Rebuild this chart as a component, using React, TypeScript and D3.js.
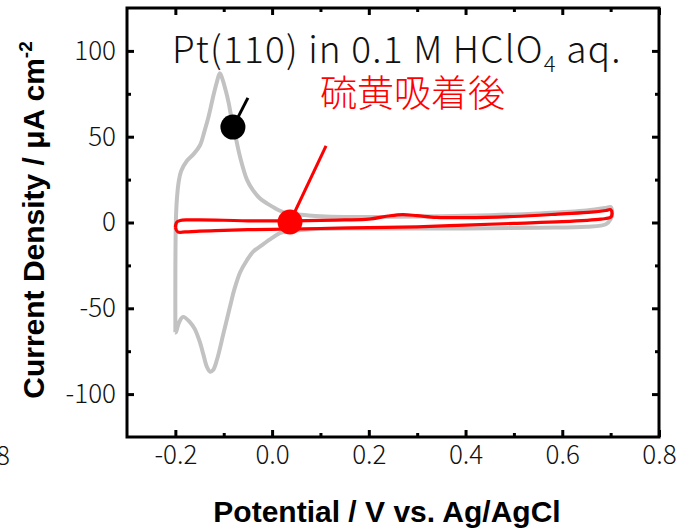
import React, { useEffect, useRef } from 'react';
import * as d3 from 'd3';

const W = 677;
const H = 529;

// axis ticks
const xTicks = [-0.2, 0.0, 0.2, 0.4, 0.6, 0.8];
const xTickLabels = ['-0.2', '0.0', '0.2', '0.4', '0.6', '0.8'];
const xMinorTicks = [-0.1, 0.1, 0.3, 0.5, 0.7];
const yTicks = [-100, -50, 0, 50, 100];
const yTickLabels = ['-100', '-50', '0', '50', '100'];
const yMinorTicks = [-75, -25, 25, 75];

// Pt(110) in 0.1 M HClO4 (before S adsorption), [V, µA cm-2]
const grayAnodic: [number, number][] = [
  [-0.2, -64], [-0.2, -30], [-0.199, 0], [-0.197, 13], [-0.193, 24], [-0.188, 30],
  [-0.176, 36], [-0.162, 40], [-0.149, 45], [-0.14, 53], [-0.131, 62], [-0.123, 72],
  [-0.115, 81], [-0.108, 87], [-0.102, 83], [-0.096, 77], [-0.09, 70], [-0.084, 61],
  [-0.077, 52], [-0.066, 38], [-0.052, 25], [-0.04, 19], [-0.025, 14], [-0.01, 11],
  [0.002, 9], [0.015, 7], [0.031, 5.5], [0.05, 4.8], [0.072, 4.2], [0.1, 3.6],
  [0.15, 3.2], [0.25, 3.3], [0.35, 3.6], [0.45, 4.2], [0.55, 5.3], [0.65, 7],
  [0.69, 8.5], [0.7, 9],
];
const grayCathodic: [number, number][] = [
  [0.703, 6], [0.7, 2], [0.69, -1], [0.65, -2.5], [0.55, -3], [0.4, -3.5], [0.25, -3.5],
  [0.15, -3.5], [0.08, -4], [0.04, -5], [0.017, -6], [0.0, -9], [-0.02, -13],
  [-0.039, -17], [-0.052, -22], [-0.066, -29], [-0.078, -39], [-0.087, -49],
  [-0.1, -64], [-0.114, -80], [-0.122, -86], [-0.128, -87], [-0.135, -84],
  [-0.142, -77], [-0.149, -70], [-0.16, -62], [-0.17, -58], [-0.184, -55],
  [-0.192, -58], [-0.199, -64], [-0.2, -64],
];

// after sulfur adsorption
const redAnodic: [number, number][] = [
  [-0.2, -3], [-0.199, -1], [-0.196, 0.5], [-0.19, 1.2], [-0.175, 1.5], [-0.15, 1.5],
  [-0.1, 1.3], [-0.05, 1], [0.0, 1], [0.04, 1], [0.1, 1.2], [0.15, 1.5], [0.2, 2],
  [0.24, 3.8], [0.27, 4.6], [0.3, 4], [0.34, 3], [0.4, 2.8], [0.5, 3.5], [0.6, 5],
  [0.66, 6], [0.69, 7], [0.7, 7.5],
];
const redCathodic: [number, number][] = [
  [0.703, 5], [0.7, 3], [0.68, 2], [0.6, 0.5], [0.5, -0.5], [0.4, -1.5], [0.3, -2.5],
  [0.2, -3], [0.1, -3.5], [0.04, -3.8], [-0.05, -4.2], [-0.1, -4.6], [-0.15, -5],
  [-0.18, -5.5], [-0.195, -5.5], [-0.2, -3],
];

// markers: [point V, point j, pointer-end V, pointer-end j]
const blackMarker = [-0.081, 55.6, -0.05, 72.6];
const redMarker = [0.037, 0.3, 0.1115, 44.6];

const titleMain = 'Pt(110) in 0.1 M HClO';
const titleSub = '4';
const titleEnd = ' aq.';
const redLabel = '硫黄吸着後';
const xLabel = 'Potential / V vs. Ag/AgCl';
const yLabelMain = 'Current Density / μA cm';
const yLabelSup = '-2';

export default function App() {
  const ref = useRef<SVGSVGElement>(null);
  useEffect(() => {
    const svg = d3.select(ref.current);
    svg.selectAll('*').remove();
    const L = 127, R = 659, T = 8, B = 437;
    const x = d3.scaleLinear().domain([-0.3, 0.8]).range([L, R]);
    const y = d3.scaleLinear().domain([-125, 125]).range([B, T]);
    const line = d3
      .line<[number, number]>()
      .x((d) => x(d[0]))
      .y((d) => y(d[1]))
      .curve(d3.curveCatmullRom.alpha(0.5));

    const tickFont = "'Noto Sans CJK JP', 'Noto Sans', sans-serif";
    const boldFont = "'Liberation Sans', Arial, sans-serif";

    svg.append('rect').attr('width', W).attr('height', H).attr('fill', '#fff');

    svg
      .append('path')
      .datum([...grayAnodic, ...grayCathodic])
      .attr('d', line)
      .attr('fill', 'none')
      .attr('stroke', '#c2c2c2')
      .attr('stroke-width', 4)
      .attr('stroke-linejoin', 'round');
    svg
      .append('path')
      .datum([...redAnodic, ...redCathodic])
      .attr('d', line)
      .attr('fill', 'none')
      .attr('stroke', '#ff0000')
      .attr('stroke-width', 3.2)
      .attr('stroke-linejoin', 'round');

    const drawMarker = (m: number[], color: string) => {
      svg
        .append('line')
        .attr('x1', x(m[0]))
        .attr('y1', y(m[1]))
        .attr('x2', x(m[2]))
        .attr('y2', y(m[3]))
        .attr('stroke', color)
        .attr('stroke-width', 3);
      svg.append('circle').attr('cx', x(m[0])).attr('cy', y(m[1])).attr('r', 12.5).attr('fill', color);
    };
    drawMarker(blackMarker, '#000');
    drawMarker(redMarker, '#ff0000');

    const styleAxis = (g: any) => {
      g.select('.domain').remove();
      g.selectAll('.tick line').attr('stroke', '#000').attr('stroke-width', 3);
      g.selectAll('.tick text')
        .attr('fill', '#111')
        .attr('font-family', tickFont)
        .attr('font-weight', 300)
        .attr('font-size', 26);
    };

    // bottom
    svg
      .append('g')
      .attr('transform', `translate(0,${B})`)
      .call(
        d3.axisBottom(x).tickValues(xTicks).tickFormat((_d, i) => xTickLabels[i]).tickSize(-7).tickPadding(9)
      )
      .call(styleAxis);
    svg
      .append('g')
      .attr('transform', `translate(0,${B})`)
      .call(d3.axisBottom(x).tickValues(xMinorTicks).tickFormat(() => '').tickSize(-4))
      .call(styleAxis);
    // top
    svg
      .append('g')
      .attr('transform', `translate(0,${T})`)
      .call(d3.axisTop(x).tickValues(xTicks).tickFormat(() => '').tickSize(-7))
      .call(styleAxis);
    svg
      .append('g')
      .attr('transform', `translate(0,${T})`)
      .call(d3.axisTop(x).tickValues(xMinorTicks).tickFormat(() => '').tickSize(-4))
      .call(styleAxis);
    // left
    svg
      .append('g')
      .attr('transform', `translate(${L},0)`)
      .call(
        d3.axisLeft(y).tickValues(yTicks).tickFormat((_d, i) => yTickLabels[i]).tickSize(-7).tickPadding(11)
      )
      .call(styleAxis);
    svg
      .append('g')
      .attr('transform', `translate(${L},0)`)
      .call(d3.axisLeft(y).tickValues(yMinorTicks).tickFormat(() => '').tickSize(-4))
      .call(styleAxis);
    // right
    svg
      .append('g')
      .attr('transform', `translate(${R},0)`)
      .call(d3.axisRight(y).tickValues(yTicks).tickFormat(() => '').tickSize(-7))
      .call(styleAxis);
    svg
      .append('g')
      .attr('transform', `translate(${R},0)`)
      .call(d3.axisRight(y).tickValues(yMinorTicks).tickFormat(() => '').tickSize(-4))
      .call(styleAxis);

    // frame
    svg
      .append('rect')
      .attr('x', L)
      .attr('y', T)
      .attr('width', R - L)
      .attr('height', B - T)
      .attr('fill', 'none')
      .attr('stroke', '#000')
      .attr('stroke-width', 3);

    // cut-off neighbour label
    svg
      .append('text')
      .attr('x', 10)
      .attr('y', 465)
      .attr('text-anchor', 'end')
      .attr('font-family', tickFont)
      .attr('font-weight', 300)
      .attr('font-size', 26)
      .attr('fill', '#111')
      .text('0.8');

    // title
    const t = svg
      .append('text')
      .attr('x', 172)
      .attr('y', 63)
      .attr('font-family', tickFont)
      .attr('font-weight', 300)
      .attr('font-size', 37)
      .attr('letter-spacing', 1.2)
      .attr('fill', '#111');
    t.append('tspan').text(titleMain);
    t.append('tspan').attr('font-size', 22).attr('dy', 9).text(titleSub);
    t.append('tspan').attr('dy', -9).text(titleEnd);

    svg
      .append('text')
      .attr('x', 320)
      .attr('y', 107)
      .attr('font-family', "'Noto Sans CJK JP', sans-serif")
      .attr('font-weight', 300)
      .attr('font-size', 37)
      .attr('fill', '#ff0000')
      .text(redLabel);

    // axis labels
    svg
      .append('text')
      .attr('x', 387)
      .attr('y', 522)
      .attr('text-anchor', 'middle')
      .attr('font-family', boldFont)
      .attr('font-weight', 'bold')
      .attr('font-size', 30)
      .attr('fill', '#000')
      .text(xLabel);

    const yl = svg
      .append('text')
      .attr('transform', `translate(44,220) rotate(-90)`)
      .attr('text-anchor', 'middle')
      .attr('font-family', boldFont)
      .attr('font-weight', 'bold')
      .attr('font-size', 30)
      .attr('fill', '#000');
    yl.append('tspan').text(yLabelMain);
    yl.append('tspan').attr('font-size', 19).attr('dy', -12).text(yLabelSup);
  }, []);
  return (
    <svg
      ref={ref}
      width={W}
      height={H}
      style={{ position: 'absolute', left: 0, top: 0, display: 'block' }}
    />
  );
}
